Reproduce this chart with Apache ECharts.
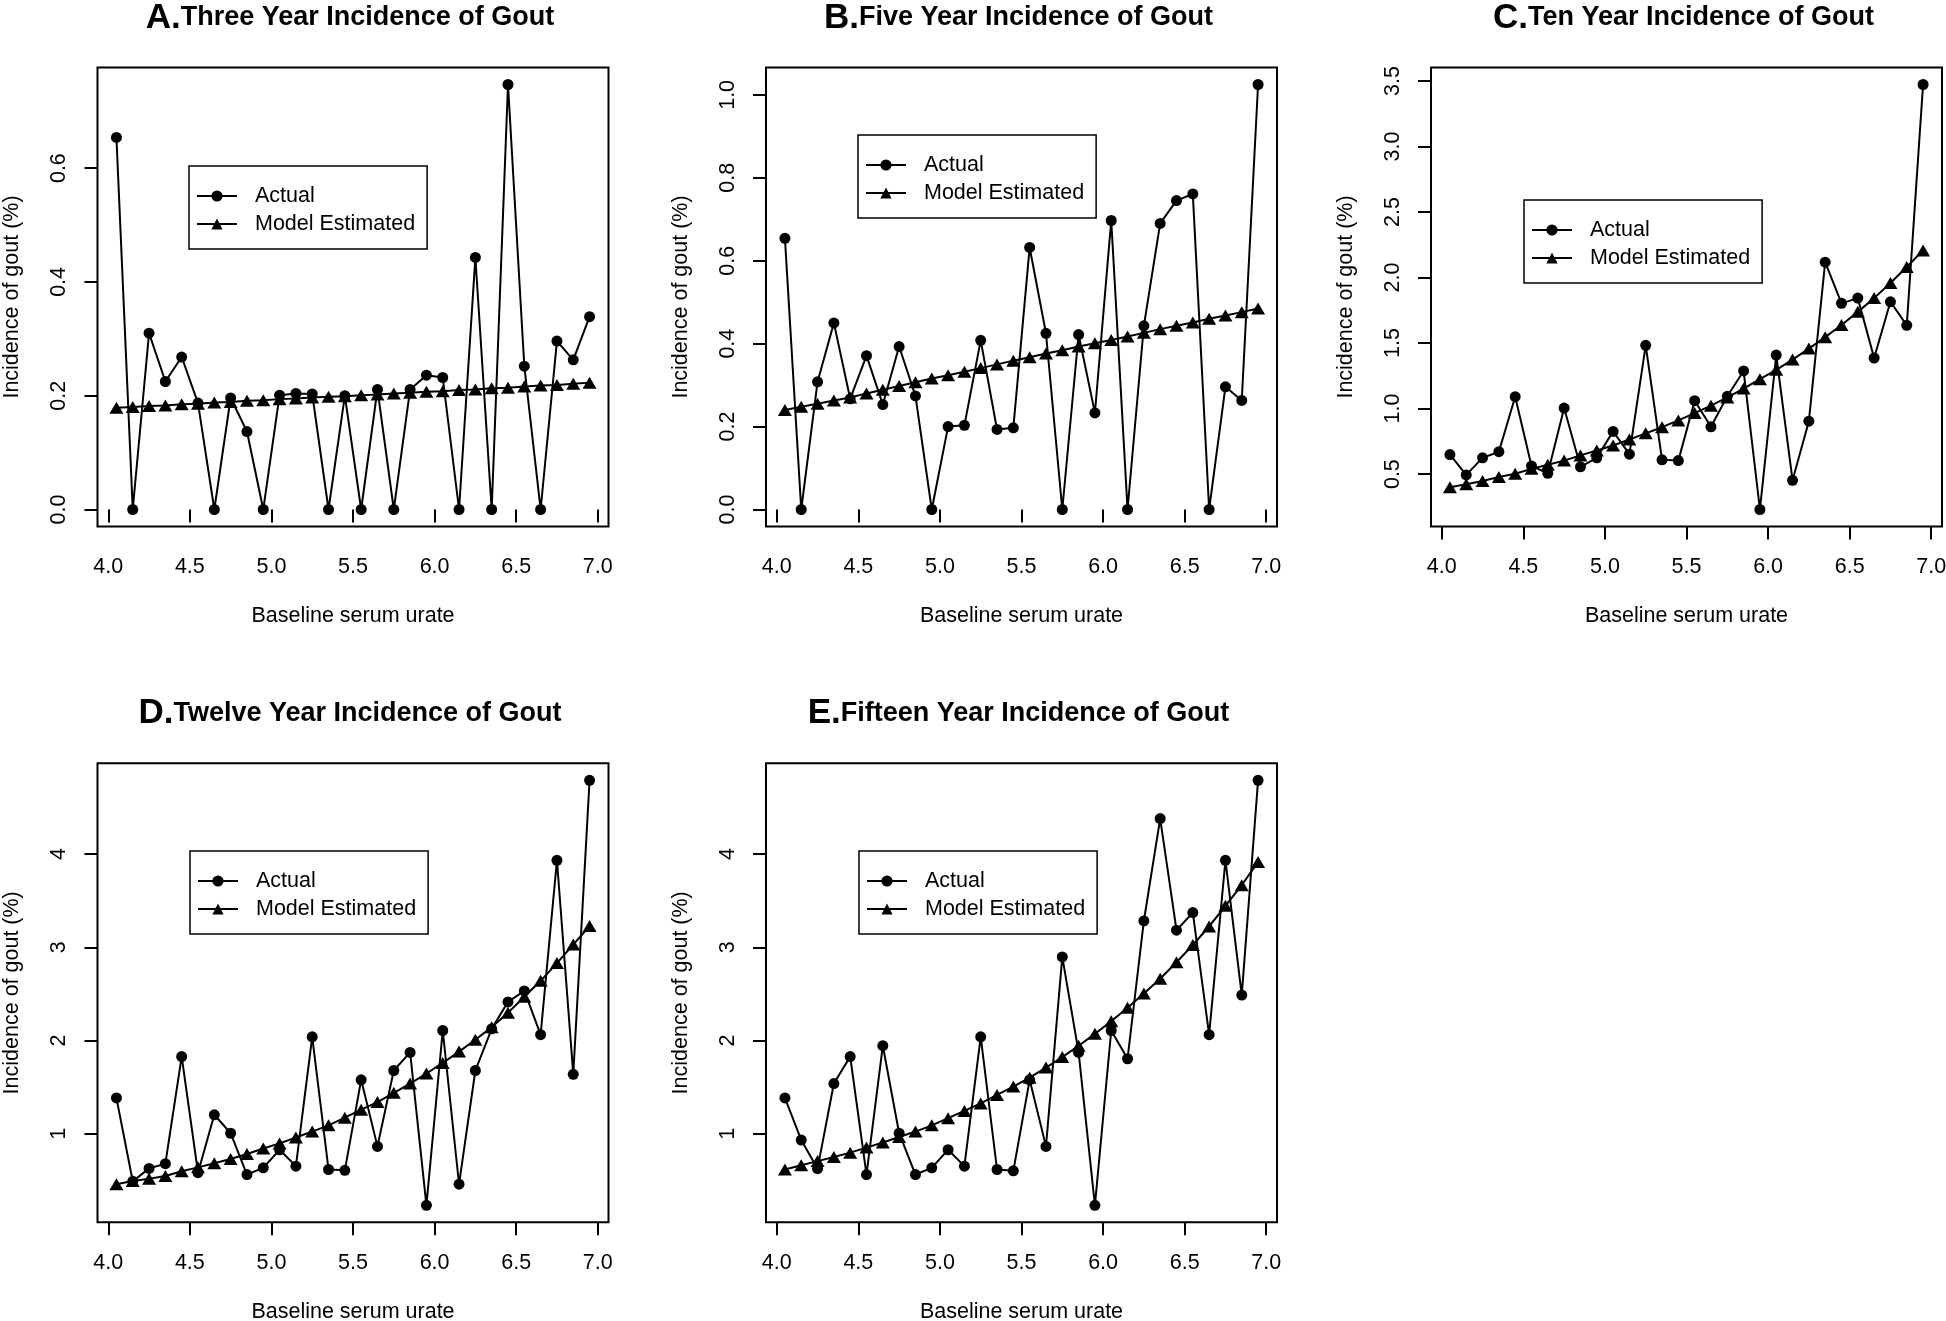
<!DOCTYPE html>
<html><head><meta charset="utf-8">
<script src="https://cdn.jsdelivr.net/npm/echarts@6/dist/echarts.min.js"></script>
<style>html,body{margin:0;padding:0;background:#fff;}#c{width:1946px;height:1321px;}</style>
</head><body><div id="c"></div>
<script>
// ---------- data ----------
const urate = [4.05, 4.15, 4.25, 4.35, 4.45, 4.55, 4.65, 4.75, 4.85, 4.95,
               5.05, 5.15, 5.25, 5.35, 5.45, 5.55, 5.65, 5.75, 5.85, 5.95,
               6.05, 6.15, 6.25, 6.35, 6.45, 6.55, 6.65, 6.75, 6.85, 6.95];
const xTicks = [4.0, 4.5, 5.0, 5.5, 6.0, 6.5, 7.0];

const actual3yr = [0.654, 0, 0.310, 0.225, 0.268, 0.187, 0, 0.196, 0.137, 0,
                   0.201, 0.204, 0.203, 0, 0.200, 0, 0.211, 0, 0.211, 0.236,
                   0.232, 0, 0.443, 0, 0.747, 0.252, 0, 0.296, 0.263, 0.339];
const model3yr = [0.179, 0.180, 0.182, 0.183, 0.185, 0.186, 0.188, 0.189, 0.191, 0.192,
                  0.194, 0.195, 0.197, 0.198, 0.199, 0.201, 0.202, 0.204, 0.205, 0.207,
                  0.208, 0.210, 0.211, 0.213, 0.214, 0.216, 0.218, 0.219, 0.221, 0.223];

const actual5yr = [0.654, 0, 0.308, 0.450, 0.267, 0.371, 0.253, 0.393, 0.274, 0,
                   0.200, 0.203, 0.408, 0.193, 0.197, 0.632, 0.425, 0, 0.422, 0.233,
                   0.697, 0, 0.443, 0.690, 0.745, 0.761, 0, 0.296, 0.263, 1.025];
const model5yr = [0.240, 0.248, 0.255, 0.263, 0.270, 0.280, 0.289, 0.298, 0.307, 0.316,
                  0.324, 0.332, 0.341, 0.350, 0.359, 0.367, 0.376, 0.384, 0.393, 0.401,
                  0.409, 0.417, 0.426, 0.435, 0.443, 0.451, 0.460, 0.468, 0.476, 0.485];

const actual10yr = [0.649, 0.494, 0.624, 0.671, 1.091, 0.562, 0.506, 1.004, 0.556, 0.624,
                    0.826, 0.652, 1.483, 0.609, 0.603, 1.060, 0.861, 1.094, 1.287, 0.230,
                    1.408, 0.453, 0.904, 2.117, 1.803, 1.843, 1.386, 1.815, 1.635, 3.473];
const model10yr = [0.400, 0.422, 0.447, 0.478, 0.503, 0.540, 0.572, 0.603, 0.643, 0.680,
                   0.718, 0.764, 0.811, 0.858, 0.910, 0.966, 1.022, 1.085, 1.153, 1.224,
                   1.296, 1.374, 1.458, 1.545, 1.638, 1.738, 1.843, 1.958, 2.080, 2.207];

const actual12yr = [1.384, 0.489, 0.628, 0.678, 1.827, 0.582, 1.203, 1.005, 0.562, 0.634,
                    0.828, 0.652, 2.039, 0.616, 0.607, 1.578, 0.864, 1.678, 1.872, 0.232,
                    2.107, 0.458, 1.678, 2.125, 2.414, 2.532, 2.062, 3.933, 1.637, 4.791];
const model12yr = [0.457, 0.492, 0.518, 0.546, 0.598, 0.639, 0.684, 0.729, 0.783, 0.842,
                   0.896, 0.959, 1.023, 1.090, 1.172, 1.258, 1.339, 1.438, 1.538, 1.646,
                   1.759, 1.881, 2.008, 2.143, 2.297, 2.469, 2.640, 2.830, 3.029, 3.228];

const actual15yr = [1.384, 0.932, 0.625, 1.538, 1.827, 0.562, 1.944, 1.005, 0.562, 0.634,
                    0.828, 0.652, 2.039, 0.616, 0.602, 1.578, 0.864, 2.896, 1.872, 0.232,
                    2.107, 1.804, 3.282, 4.380, 3.183, 3.372, 2.062, 3.933, 2.487, 4.791];
const model15yr = [0.616, 0.661, 0.706, 0.751, 0.797, 0.851, 0.905, 0.964, 1.023, 1.090,
                   1.167, 1.244, 1.325, 1.416, 1.506, 1.601, 1.709, 1.822, 1.944, 2.071,
                   2.207, 2.351, 2.505, 2.663, 2.839, 3.024, 3.223, 3.445, 3.666, 3.915];

const yTicksA = [0.0, 0.2, 0.4, 0.6];
const yTicksB = [0.0, 0.2, 0.4, 0.6, 0.8, 1.0];
const yTicksC = [0.5, 1.0, 1.5, 2.0, 2.5, 3.0, 3.5];
const yTicksD = [1, 2, 3, 4];
const yTicksE = [1, 2, 3, 4];

const panelLetters = ['A.', 'B.', 'C.', 'D.', 'E.'];
const panelTitles = ['Three Year Incidence of Gout', 'Five Year Incidence of Gout',
                     'Ten Year Incidence of Gout', 'Twelve Year Incidence of Gout',
                     'Fifteen Year Incidence of Gout'];
const seriesNames = ['Actual', 'Model Estimated'];
const xAxisTitle = 'Baseline serum urate';
const yAxisTitle = 'Incidence of gout (%)';

// ---------- layout ----------
const FONT = '"Liberation Sans", Arial, Helvetica, sans-serif';
const PW = 511, PH = 459;
const panels = [
  {actual: actual3yr,  model: model3yr,  yTicks: yTicksA, dec: 1, left: 97.5, top: 67.5,  lgL: 189,  lgT: 166},
  {actual: actual5yr,  model: model5yr,  yTicks: yTicksB, dec: 1, left: 766,  top: 67.5,  lgL: 858,  lgT: 135},
  {actual: actual10yr, model: model10yr, yTicks: yTicksC, dec: 1, left: 1431, top: 67.5,  lgL: 1524, lgT: 200},
  {actual: actual12yr, model: model12yr, yTicks: yTicksD, dec: 0, left: 97.5, top: 763.3, lgL: 190,  lgT: 851},
  {actual: actual15yr, model: model15yr, yTicks: yTicksE, dec: 0, left: 766,  top: 763.3, lgL: 859,  lgT: 851}
];

function rRange(arrs) {
  let lo = Infinity, hi = -Infinity;
  arrs.forEach(a => a.forEach(v => { lo = Math.min(lo, v); hi = Math.max(hi, v); }));
  const e = (hi - lo) * 0.04;
  return [lo - e, hi + e];
}

const option = {
  backgroundColor: '#fff',
  animation: false,
  title: [], grid: [], xAxis: [], yAxis: [], series: [], legend: []
};
const xr = rRange([urate]);
const txt = {color: '#000', fontFamily: FONT, fontSize: 21.5};

panels.forEach((p, i) => {
  const yr = rRange([p.actual, p.model]);
  option.grid.push({left: p.left, top: p.top, width: PW, height: PH, show: true,
    borderColor: '#000', borderWidth: 2, backgroundColor: 'transparent',
    containLabel: false, outerBoundsMode: 'none'});
  option.title.push({
    text: '{a|' + panelLetters[i] + '}{b|' + panelTitles[i] + '}',
    left: p.left + PW / 2 - 3, top: p.top - 67, textAlign: 'center', padding: 0,
    textStyle: {rich: {
      a: {fontSize: 35, fontWeight: 'bold', fontFamily: FONT, color: '#000', lineHeight: 35},
      b: {fontSize: 27, fontWeight: 'bold', fontFamily: FONT, color: '#000', lineHeight: 35}
    }}
  });
  option.xAxis.push({
    gridIndex: i, type: 'value', min: xr[0], max: xr[1],
    axisLine: {show: false}, splitLine: {show: false},
    axisTick: {show: true, inside: false, length: 13, customValues: xTicks, lineStyle: {color: '#000', width: 2}},
    axisLabel: Object.assign({customValues: xTicks, margin: 30, formatter: v => v.toFixed(1)}, txt),
    name: xAxisTitle, nameLocation: 'middle', nameGap: 79, nameTextStyle: txt
  });
  option.yAxis.push({
    gridIndex: i, type: 'value', min: yr[0], max: yr[1],
    axisLine: {show: false}, splitLine: {show: false},
    axisTick: {show: true, inside: false, length: 13, customValues: p.yTicks, lineStyle: {color: '#000', width: 2}},
    axisLabel: Object.assign({customValues: p.yTicks, margin: 27, rotate: 90, formatter: v => v.toFixed(p.dec)}, txt),
    name: yAxisTitle, nameLocation: 'middle', nameGap: 74, nameTextStyle: txt
  });
  option.series.push({
    type: 'line', name: seriesNames[0], xAxisIndex: i, yAxisIndex: i,
    data: urate.map((x, j) => [x, p.actual[j]]),
    symbol: 'circle', symbolSize: 11, showSymbol: true,
    lineStyle: {color: '#000', width: 2}, itemStyle: {color: '#000'},
    emphasis: {disabled: true}, z: 2
  });
  option.series.push({
    type: 'line', name: seriesNames[1], xAxisIndex: i, yAxisIndex: i,
    data: urate.map((x, j) => [x, p.model[j]]),
    symbol: 'triangle', symbolSize: [14, 12], showSymbol: true,
    lineStyle: {color: '#000', width: 2}, itemStyle: {color: '#000'},
    emphasis: {disabled: true}, z: 3
  });
  option.legend.push({
    left: p.lgL, top: p.lgT, orient: 'vertical', data: seriesNames,
    itemWidth: 40, itemHeight: 14, itemGap: 6, padding: [19, 12, 14, 7],
    borderColor: '#000', borderWidth: 1.5, backgroundColor: '#fff', selectedMode: false,
    textStyle: {color: '#000', fontFamily: FONT, fontSize: 21.5, lineHeight: 20, padding: [0, 0, 0, 13]}
  });
});

const chart = echarts.init(document.getElementById('c'), null, {renderer: 'canvas'});
chart.setOption(option);
</script>
</body></html>
